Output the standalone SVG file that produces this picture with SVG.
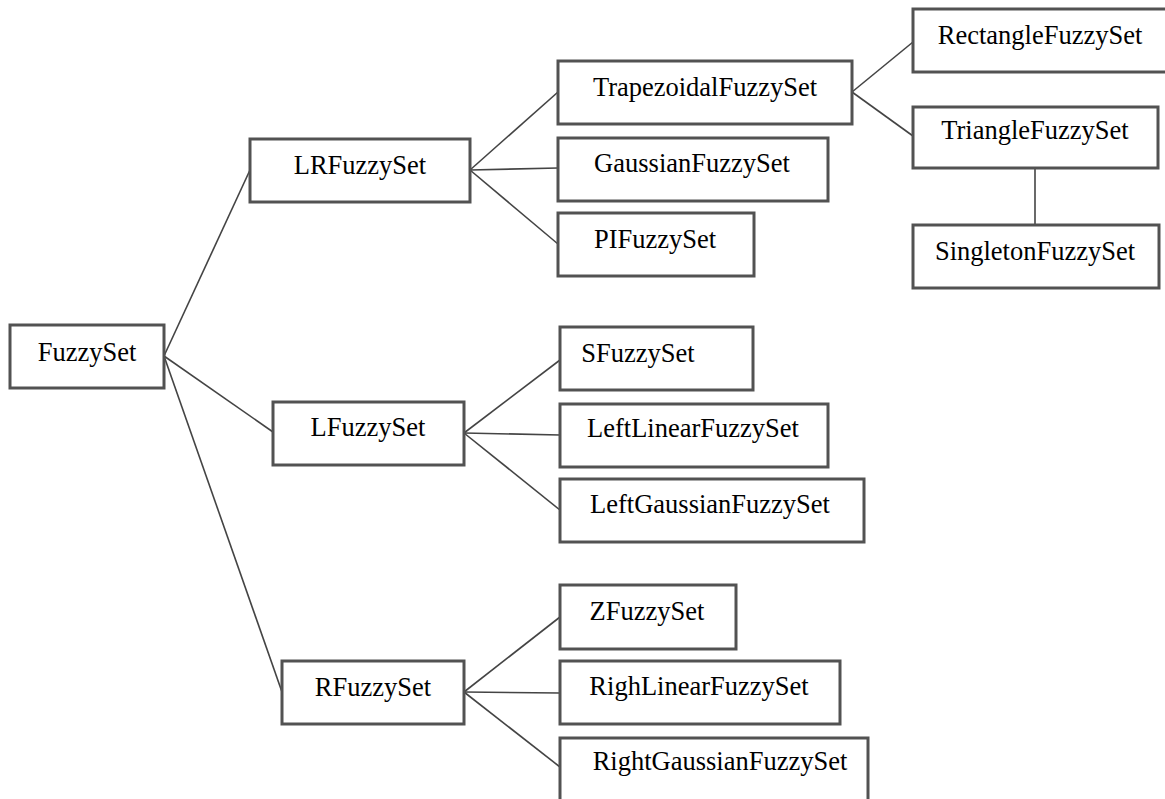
<svg xmlns="http://www.w3.org/2000/svg" width="1165" height="799" viewBox="0 0 1165 799">
  <style>
    .box { fill: #ffffff; stroke: #525252; stroke-width: 3; }
    .lbl { font-family: "Liberation Serif", "Times New Roman", serif; font-size: 26.5px; fill: #000000; text-anchor: middle; }
    .edge { stroke: #444444; stroke-width: 1.6; fill: none; }
  </style>
  <rect x="0" y="0" width="1165" height="799" fill="#ffffff"/>

  <!-- class hierarchy links -->
  <g id="connectors">
    <line class="edge" x1="164" y1="356" x2="250" y2="170"/>
    <line class="edge" x1="164" y1="356" x2="273" y2="432"/>
    <line class="edge" x1="164" y1="356" x2="282" y2="692"/>
    <line class="edge" x1="470" y1="170" x2="558" y2="92"/>
    <line class="edge" x1="470" y1="170" x2="558" y2="168"/>
    <line class="edge" x1="470" y1="170" x2="558" y2="244"/>
    <line class="edge" x1="852" y1="92" x2="913" y2="42"/>
    <line class="edge" x1="852" y1="92" x2="913" y2="136"/>
    <line class="edge" x1="1035" y1="168" x2="1035" y2="225"/>
    <line class="edge" x1="464" y1="433" x2="560" y2="360"/>
    <line class="edge" x1="464" y1="433" x2="560" y2="435"/>
    <line class="edge" x1="464" y1="433" x2="560" y2="510"/>
    <line class="edge" x1="464" y1="692" x2="560" y2="617"/>
    <line class="edge" x1="464" y1="692" x2="560" y2="693"/>
    <line class="edge" x1="464" y1="692" x2="560" y2="767"/>
  </g>

  <g id="FuzzySet">
    <rect class="box" x="10" y="325" width="154" height="63"/>
    <text class="lbl" x="87" y="361">FuzzySet</text>
  </g>
  <g id="LRFuzzySet">
    <rect class="box" x="250" y="139" width="220" height="63"/>
    <text class="lbl" x="360" y="174">LRFuzzySet</text>
  </g>
  <g id="LFuzzySet">
    <rect class="box" x="273" y="402" width="191" height="63"/>
    <text class="lbl" x="368" y="436">LFuzzySet</text>
  </g>
  <g id="RFuzzySet">
    <rect class="box" x="282" y="661" width="182" height="63"/>
    <text class="lbl" x="373" y="696">RFuzzySet</text>
  </g>
  <g id="TrapezoidalFuzzySet">
    <rect class="box" x="558" y="61" width="294" height="63"/>
    <text class="lbl" x="705" y="96">TrapezoidalFuzzySet</text>
  </g>
  <g id="GaussianFuzzySet">
    <rect class="box" x="558" y="138" width="270" height="63"/>
    <text class="lbl" x="692" y="172">GaussianFuzzySet</text>
  </g>
  <g id="PIFuzzySet">
    <rect class="box" x="558" y="213" width="196" height="63"/>
    <text class="lbl" x="655" y="248">PIFuzzySet</text>
  </g>
  <g id="RectangleFuzzySet">
    <rect class="box" x="913" y="9" width="262" height="63"/>
    <text class="lbl" x="1040" y="44">RectangleFuzzySet</text>
  </g>
  <g id="TriangleFuzzySet">
    <rect class="box" x="913" y="107" width="245" height="61"/>
    <text class="lbl" x="1035" y="139">TriangleFuzzySet</text>
  </g>
  <g id="SingletonFuzzySet">
    <rect class="box" x="913" y="225" width="246" height="63"/>
    <text class="lbl" x="1035" y="260">SingletonFuzzySet</text>
  </g>
  <g id="SFuzzySet">
    <rect class="box" x="560" y="327" width="193" height="63"/>
    <text class="lbl" x="638" y="362">SFuzzySet</text>
  </g>
  <g id="LeftLinearFuzzySet">
    <rect class="box" x="560" y="404" width="268" height="63"/>
    <text class="lbl" x="693" y="437">LeftLinearFuzzySet</text>
  </g>
  <g id="LeftGaussianFuzzySet">
    <rect class="box" x="560" y="479" width="304" height="63"/>
    <text class="lbl" x="710" y="513">LeftGaussianFuzzySet</text>
  </g>
  <g id="ZFuzzySet">
    <rect class="box" x="560" y="585" width="176" height="64"/>
    <text class="lbl" x="647" y="620">ZFuzzySet</text>
  </g>
  <g id="RighLinearFuzzySet">
    <rect class="box" x="560" y="661" width="280" height="63"/>
    <text class="lbl" x="699" y="695">RighLinearFuzzySet</text>
  </g>
  <g id="RightGaussianFuzzySet">
    <rect class="box" x="560" y="738" width="308" height="72"/>
    <text class="lbl" x="720" y="770">RightGaussianFuzzySet</text>
  </g>
</svg>
